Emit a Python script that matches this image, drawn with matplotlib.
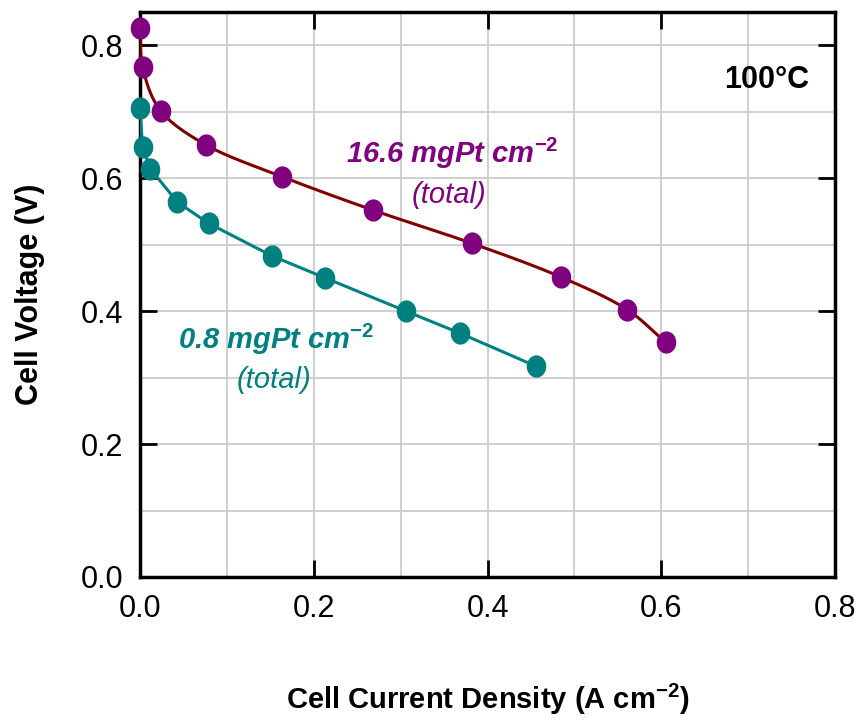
import numpy as np
import matplotlib
matplotlib.use("Agg")
import matplotlib.pyplot as plt
from matplotlib.path import Path

plt.rcParams['font.family'] = ['Liberation Sans', 'DejaVu Sans']
plt.rcParams['mathtext.fontset'] = 'custom'
plt.rcParams['mathtext.rm'] = 'Liberation Sans'
plt.rcParams['mathtext.it'] = 'Liberation Sans:italic'
plt.rcParams['mathtext.bf'] = 'Liberation Sans:bold'

# Data
high_j = [0.000, 0.003, 0.024, 0.076, 0.164, 0.268, 0.382, 0.485, 0.561, 0.605]
high_v = [0.826, 0.767, 0.701, 0.650, 0.602, 0.552, 0.502, 0.451, 0.402, 0.353]
low_j = [0.000, 0.003, 0.012, 0.043, 0.079, 0.152, 0.213, 0.306, 0.368, 0.456]
low_v = [0.705, 0.647, 0.614, 0.564, 0.532, 0.483, 0.450, 0.400, 0.367, 0.317]

xticks = [0.0, 0.2, 0.4, 0.6, 0.8]
yticks = [0.0, 0.2, 0.4, 0.6, 0.8]

PURPLE = '#800080'
DARKRED = '#800000'
TEAL = '#008080'

# slightly tall ellipse marker
_th = np.linspace(0, 2 * np.pi, 60)
ELLIPSE = Path(np.column_stack([0.88 * np.cos(_th), np.sin(_th)]), closed=True)


def catmull_rom(xs, ys, n=40, sx=1.0, sy=1.0):
    P = np.column_stack([np.asarray(xs) * sx, np.asarray(ys) * sy])
    P = np.vstack([2 * P[0] - P[1], P, 2 * P[-1] - P[-2]])
    out = []
    for i in range(1, len(P) - 2):
        p0, p1, p2, p3 = P[i - 1], P[i], P[i + 1], P[i + 2]

        def tj(ti, a, b):
            return ti + np.linalg.norm(b - a) ** 0.5 + 1e-9
        t0 = 0.0
        t1 = tj(t0, p0, p1)
        t2 = tj(t1, p1, p2)
        t3 = tj(t2, p2, p3)
        t = np.linspace(t1, t2, n)[:, None]
        A1 = (t1 - t) / (t1 - t0) * p0 + (t - t0) / (t1 - t0) * p1
        A2 = (t2 - t) / (t2 - t1) * p1 + (t - t1) / (t2 - t1) * p2
        A3 = (t3 - t) / (t3 - t2) * p2 + (t - t2) / (t3 - t2) * p3
        B1 = (t2 - t) / (t2 - t0) * A1 + (t - t0) / (t2 - t0) * A2
        B2 = (t3 - t) / (t3 - t1) * A2 + (t - t1) / (t3 - t1) * A3
        C = (t2 - t) / (t2 - t1) * B1 + (t - t1) / (t2 - t1) * B2
        out.append(C)
    C = np.vstack(out)
    return C[:, 0] / sx, C[:, 1] / sy


fig = plt.figure(figsize=(8.6, 7.21), dpi=100)
ax = fig.add_axes([140 / 860, 1 - 577 / 721, 695 / 860, 565 / 721])

ax.set_xlim(0, 0.8)
ax.set_ylim(0, 0.85)

# grid
ax.set_xticks(np.arange(0.1, 0.8, 0.1), minor=True)
ax.set_yticks(np.arange(0.1, 0.85, 0.1), minor=True)
ax.grid(True, which='both', color='#cccccc', linewidth=1.3)
ax.set_axisbelow(True)

# high loading: smooth curve
cx, cy = catmull_rom(high_j, high_v, sx=868.75, sy=782.0)
ax.plot(cx, cy, color=DARKRED, linewidth=2.2, zorder=3)
ax.plot(high_j, high_v, linestyle='none', marker=ELLIPSE, color=PURPLE,
        markersize=16, markeredgewidth=0, zorder=4, clip_on=False)

# low loading: straight segments
ax.plot(low_j, low_v, '-', color=TEAL, linewidth=2.2, zorder=3)
ax.plot(low_j, low_v, linestyle='none', marker=ELLIPSE, color=TEAL,
        markersize=16, markeredgewidth=0, zorder=4, clip_on=False)

ax.set_xticks(xticks)
ax.set_yticks(yticks)
ax.set_xticklabels(['%.1f' % v for v in xticks])
ax.set_yticklabels(['%.1f' % v for v in yticks])
ax.tick_params(which='major', direction='in', length=12, width=2,
               top=True, right=True, labelsize=22, pad=12)
ax.tick_params(which='minor', length=0)
for s in ax.spines.values():
    s.set_linewidth(2.5)
    s.set_zorder(2.5)

ax.set_xlabel('Cell Current Density (A cm$^{\\mathbf{-2}}$)', fontsize=21,
              fontweight='bold', labelpad=42)
ax.set_ylabel('Cell Voltage (V)', fontsize=22, fontweight='bold', labelpad=26)

ax.text(0.359, 0.637, '16.6 mgPt cm$^{\\mathbf{-2}}$', color=PURPLE, fontsize=21,
        fontweight='bold', fontstyle='italic', ha='center', va='center')
ax.text(0.356, 0.574, '(total)', color=PURPLE, fontsize=21,
        fontstyle='italic', ha='center', va='center')
ax.text(0.157, 0.358, '0.8 mgPt cm$^{\\mathbf{-2}}$', color=TEAL, fontsize=21,
        fontweight='bold', fontstyle='italic', ha='center', va='center')
ax.text(0.154, 0.296, '(total)', color=TEAL, fontsize=21,
        fontstyle='italic', ha='center', va='center')
ax.text(0.770, 0.748, '100°C', color='black', fontsize=22,
        fontweight='bold', ha='right', va='center')

fig.savefig('out.png', dpi=100)
